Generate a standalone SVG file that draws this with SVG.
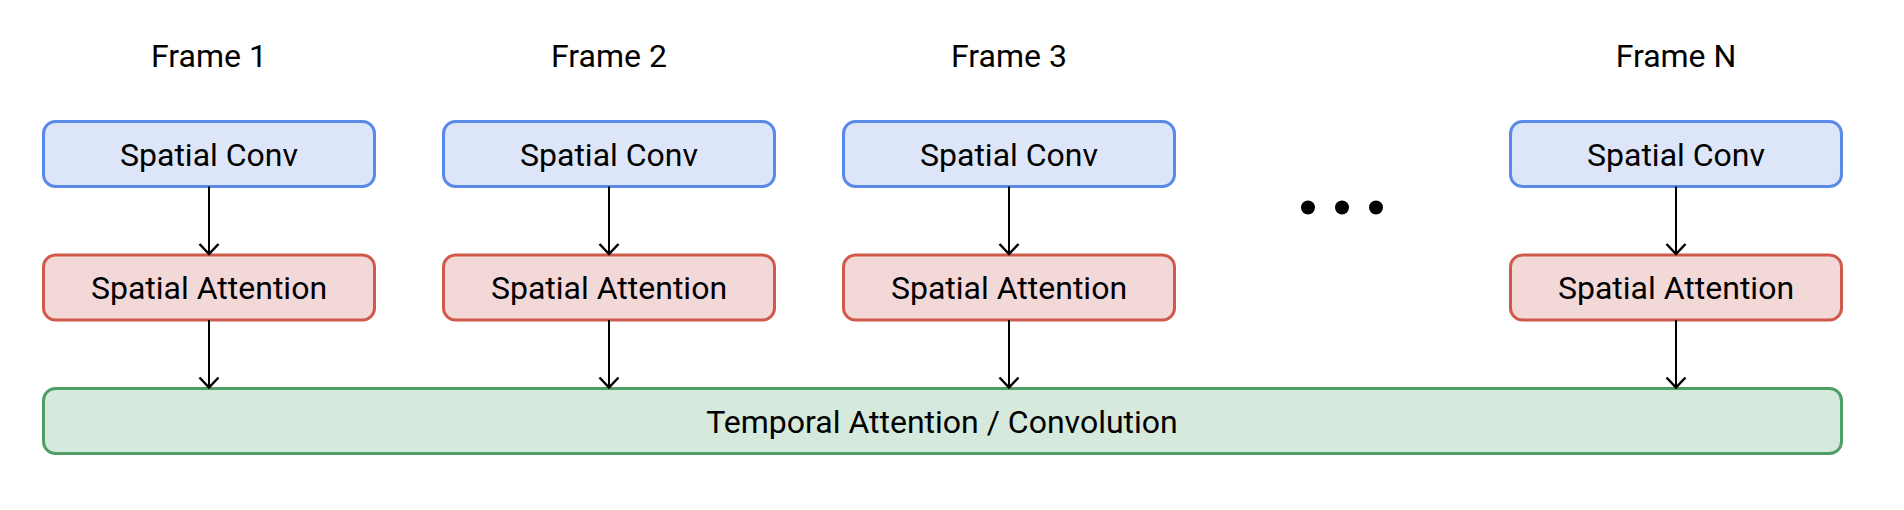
<svg xmlns="http://www.w3.org/2000/svg" width="1904" height="510" viewBox="0 0 1904 510">
<defs>
<style>
text{font-family:Roboto,"Liberation Sans",sans-serif;font-size:32px;fill:#000;text-anchor:middle}
.conv{fill:#dce6f8;stroke:#5a8ae8;stroke-width:3}
.att{fill:#f2d9d8;stroke:#cf5a4b;stroke-width:3}
.tmp{fill:#d5e9dd;stroke:#4f9e65;stroke-width:3}
.edge{stroke:#000;stroke-width:2;fill:none}
</style>
<marker id="arr" viewBox="-12 -12 14 24" markerWidth="14" markerHeight="24" refX="0" refY="0" orient="auto" markerUnits="userSpaceOnUse">
<path d="M-10,-9.5 L0,0 L-10,9.5" fill="none" stroke="#000" stroke-width="2.5"/>
</marker>
</defs>
<rect width="1904" height="510" fill="#fff"/>
<g id="labels">
<text x="209" y="67">Frame 1</text>
<text x="609" y="67">Frame 2</text>
<text x="1009" y="67">Frame 3</text>
<text x="1676" y="67">Frame N</text>
</g>
<g id="conv1"><rect class="conv" x="43.5" y="121.5" width="331" height="65" rx="12"/><text x="209" y="165.5">Spatial Conv</text></g>
<g id="conv2"><rect class="conv" x="443.5" y="121.5" width="331" height="65" rx="12"/><text x="609" y="165.5">Spatial Conv</text></g>
<g id="conv3"><rect class="conv" x="843.5" y="121.5" width="331" height="65" rx="12"/><text x="1009" y="165.5">Spatial Conv</text></g>
<g id="convN"><rect class="conv" x="1510.5" y="121.5" width="331" height="65" rx="12"/><text x="1676" y="165.5">Spatial Conv</text></g>
<g id="att1"><rect class="att" x="43.5" y="255" width="331" height="65" rx="12"/><text x="209" y="299">Spatial Attention</text></g>
<g id="att2"><rect class="att" x="443.5" y="255" width="331" height="65" rx="12"/><text x="609" y="299">Spatial Attention</text></g>
<g id="att3"><rect class="att" x="843.5" y="255" width="331" height="65" rx="12"/><text x="1009" y="299">Spatial Attention</text></g>
<g id="attN"><rect class="att" x="1510.5" y="255" width="331" height="65" rx="12"/><text x="1676" y="299">Spatial Attention</text></g>
<g id="temporal"><rect class="tmp" x="43.5" y="388.5" width="1798" height="65" rx="12"/><text x="942" y="432.5">Temporal Attention / Convolution</text></g>
<g id="ellipsis">
<circle cx="1308" cy="207.5" r="7"/>
<circle cx="1342" cy="207.5" r="7"/>
<circle cx="1376" cy="207.5" r="7"/>
</g>
<g id="connectors">
<line class="edge" x1="209" y1="186.5" x2="209" y2="254" marker-end="url(#arr)"/>
<line class="edge" x1="609" y1="186.5" x2="609" y2="254" marker-end="url(#arr)"/>
<line class="edge" x1="1009" y1="186.5" x2="1009" y2="254" marker-end="url(#arr)"/>
<line class="edge" x1="1676" y1="186.5" x2="1676" y2="254" marker-end="url(#arr)"/>
<line class="edge" x1="209" y1="320" x2="209" y2="387.5" marker-end="url(#arr)"/>
<line class="edge" x1="609" y1="320" x2="609" y2="387.5" marker-end="url(#arr)"/>
<line class="edge" x1="1009" y1="320" x2="1009" y2="387.5" marker-end="url(#arr)"/>
<line class="edge" x1="1676" y1="320" x2="1676" y2="387.5" marker-end="url(#arr)"/>
</g>
</svg>
